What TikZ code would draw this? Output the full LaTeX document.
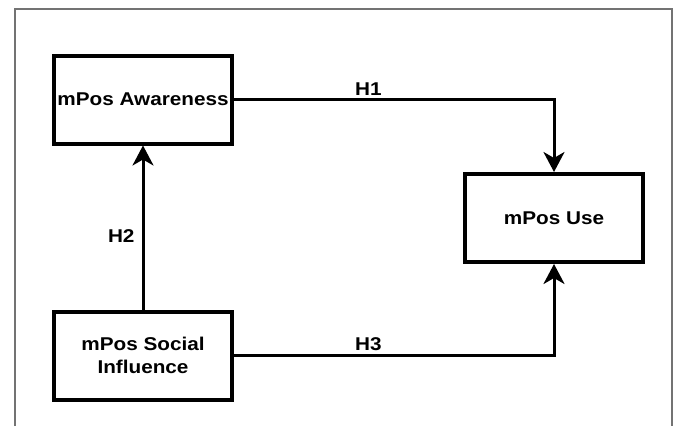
\documentclass[tikz,border=0pt]{standalone}
\usepackage{fontspec}
\setmainfont{Liberation Sans}[FakeStretch=1.12]
\usetikzlibrary{positioning,arrows.meta}

\begin{document}
\begin{tikzpicture}[x=1pt, y=-1pt, node distance=164pt and 229pt,
    box/.style={draw, line width=4pt, minimum width=178pt, minimum height=88pt,
        inner sep=0pt, align=center, font=\fontsize{18.5}{23}\selectfont\bfseries},
    arr/.style={line width=3pt, -{Stealth[length=20pt,width=21pt,inset=6pt]}},
    lbl/.style={font=\fontsize{18.5}{23}\selectfont\bfseries, inner sep=3pt}]
    \useasboundingbox (0,0) rectangle (674,426);
    % Frame
    \draw[black!55, line width=1.5pt] (15,426) -- (15,9) -- (672,9) -- (672,426);
    % Define nodes
    \node[box] (aware) at (143,99.5) {mPos Awareness};
    \node[box, below=of aware] (social) {mPos Social\\Influence};
    \node[box, right=of aware, yshift=-118.5pt] (use) {mPos Use};
    % Connect nodes
    \draw[arr] (aware) -| node[lbl, pos=0.21, above] {H1} (use);
    \draw[arr] (social) -- node[lbl, pos=0.45, left=4pt] {H2} (aware);
    \draw[arr] (social) -| node[lbl, pos=0.21, above] {H3} (use);
\end{tikzpicture}
\end{document}
